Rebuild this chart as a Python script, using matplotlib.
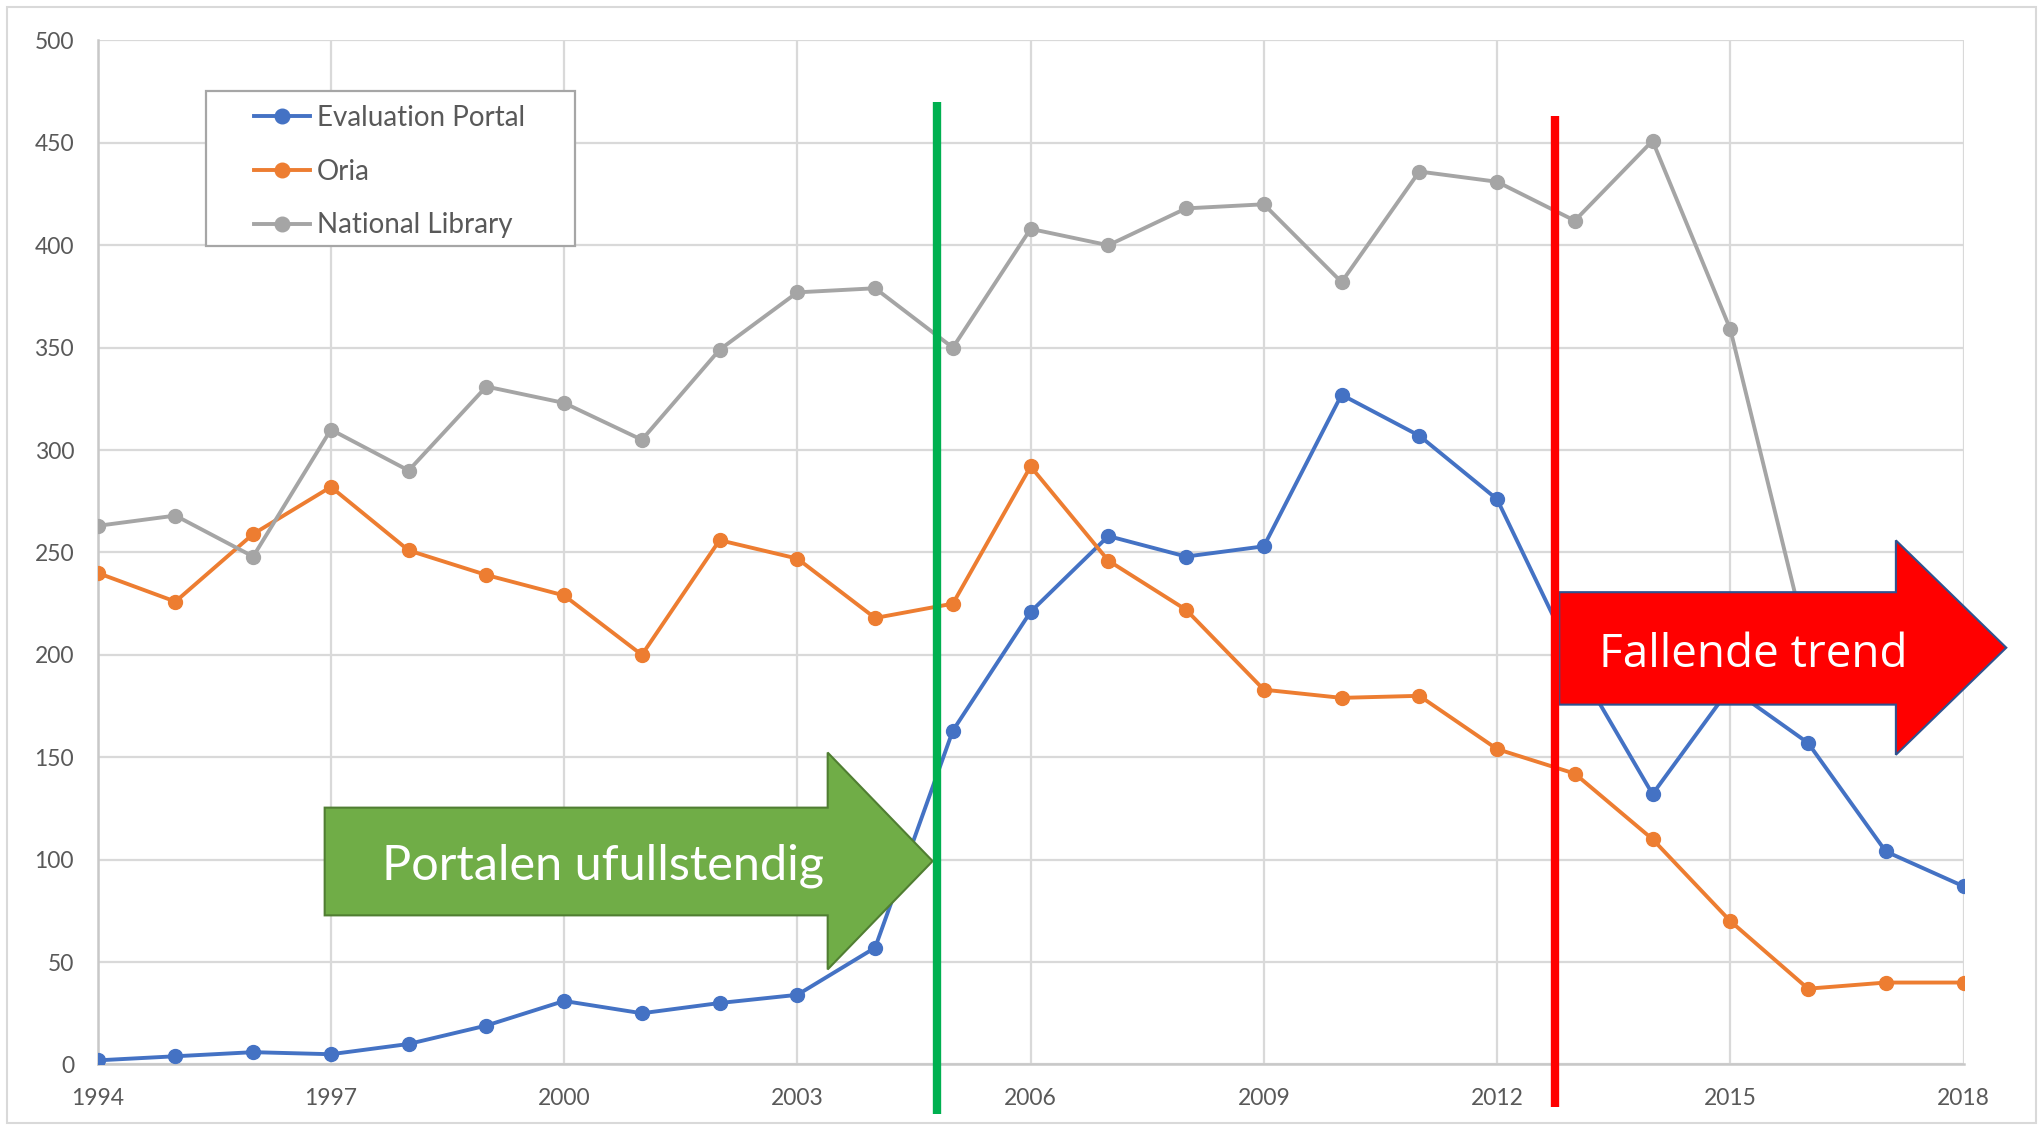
import matplotlib
matplotlib.use("Agg")
import matplotlib.pyplot as plt
from matplotlib.patches import Polygon, Rectangle

# ---- data ----
years = list(range(1994, 2019))
evaluation_portal = [2, 4, 6, 5, 10, 19, 31, 25, 30, 34, 57, 163, 221, 258, 248, 253,
                     327, 307, 276, 197, 132, 184, 157, 104, 87]
oria = [240, 226, 259, 282, 251, 239, 229, 200, 256, 247, 218, 225, 292, 246, 222, 183,
        179, 180, 154, 142, 110, 70, 37, 40, 40]
national_library = [263, 268, 248, 310, 290, 331, 323, 305, 349, 377, 379, 350, 408, 400,
                    418, 420, 382, 436, 431, 412, 451, 359, 204, 200, 205]
series_names = ["Evaluation Portal", "Oria", "National Library"]
x_ticks = list(range(1994, 2019, 3))
y_ticks = list(range(0, 501, 50))
green_label = "Portalen ufullstendig"
red_label = "Fallende trend"

colors = ["#4472C4", "#ED7D31", "#A5A5A5"]

plt.rcParams['font.family'] = ['Lato', 'DejaVu Sans']

fig = plt.figure(figsize=(20.43, 11.30), dpi=100)
ax = fig.add_axes([0.0478, 0.0580, 0.9133, 0.9062])

for vals, name, c in zip([evaluation_portal, oria, national_library], series_names, colors):
    ax.plot(years, vals, color=c, lw=2.8, marker='o', ms=10, label=name, zorder=3,
            solid_joinstyle='round')

ax.set_xlim(1994, 2018)
ax.set_ylim(0, 500)
ax.set_xticks(x_ticks)
ax.set_yticks(y_ticks)
ax.tick_params(axis='both', length=0, labelsize=16.5, labelcolor='#595959', pad=17)
ax.grid(True, color='#D9D9D9', lw=1.6, zorder=0)
ax.set_axisbelow(True)
for s in ['top', 'right']:
    ax.spines[s].set_visible(False)
for s in ['left', 'bottom']:
    ax.spines[s].set_color('#C8C8C8')
    ax.spines[s].set_linewidth(1.8)

# legend (frame drawn separately for exact padding)
leg = ax.legend(loc='upper left', bbox_to_anchor=(0.0838, 0.9372), borderaxespad=0,
                frameon=False, fontsize=20, labelcolor='#595959', handlelength=2.0,
                handletextpad=0.27, labelspacing=1.0, borderpad=0.0, markerscale=1.05)
leg.set_zorder(6)
ax.add_patch(Rectangle((0.0580, 0.7992), 0.1978, 0.1514, transform=ax.transAxes,
                       facecolor='white', edgecolor='#A6A6A6', lw=1.6, zorder=5.5,
                       clip_on=False))

# green arrow (annotation)
green_pts = [(1996.92, 125.4), (2003.39, 125.4), (2003.39, 152.3), (2004.74, 99.3),
             (2003.39, 46.4), (2003.39, 72.8), (1996.92, 72.8)]
ax.add_patch(Polygon(green_pts, closed=True, facecolor='#70AD47', edgecolor='#507E32',
                     lw=1.5, zorder=4, clip_on=False))
ax.text(2000.5, 90.5, green_label, color='white', fontsize=35, ha='center', va='baseline',
        zorder=5)

# red arrow (annotation)
red_pts = [(2012.8, 230.6), (2017.13, 230.6), (2017.13, 255.9), (2018.55, 203.5),
           (2017.13, 151.2), (2017.13, 175.7), (2012.8, 175.7)]
ax.add_patch(Polygon(red_pts, closed=True, facecolor='#FF0000', edgecolor='#2F528F',
                     lw=1.5, zorder=4, clip_on=False))
ax.text(2015.3, 194.3, red_label, color='white', fontsize=33, ha='center', va='baseline',
        zorder=5, family=['Open Sans', 'DejaVu Sans'])

# vertical marker lines
ax.plot([2004.79, 2004.79], [-24, 470], color='#00B050', lw=6, zorder=5,
        clip_on=False, solid_capstyle='butt')
ax.plot([2012.75, 2012.75], [-21, 463], color='#FF0000', lw=6, zorder=5,
        clip_on=False, solid_capstyle='butt')

# outer chart border
fig.patches.append(Rectangle((7 / 2043, 7 / 1130), 2029 / 2043, 1116 / 1130,
                             transform=fig.transFigure, fill=False,
                             edgecolor='#D9D9D9', lw=1.5))

fig.savefig("out.png", dpi=100)
